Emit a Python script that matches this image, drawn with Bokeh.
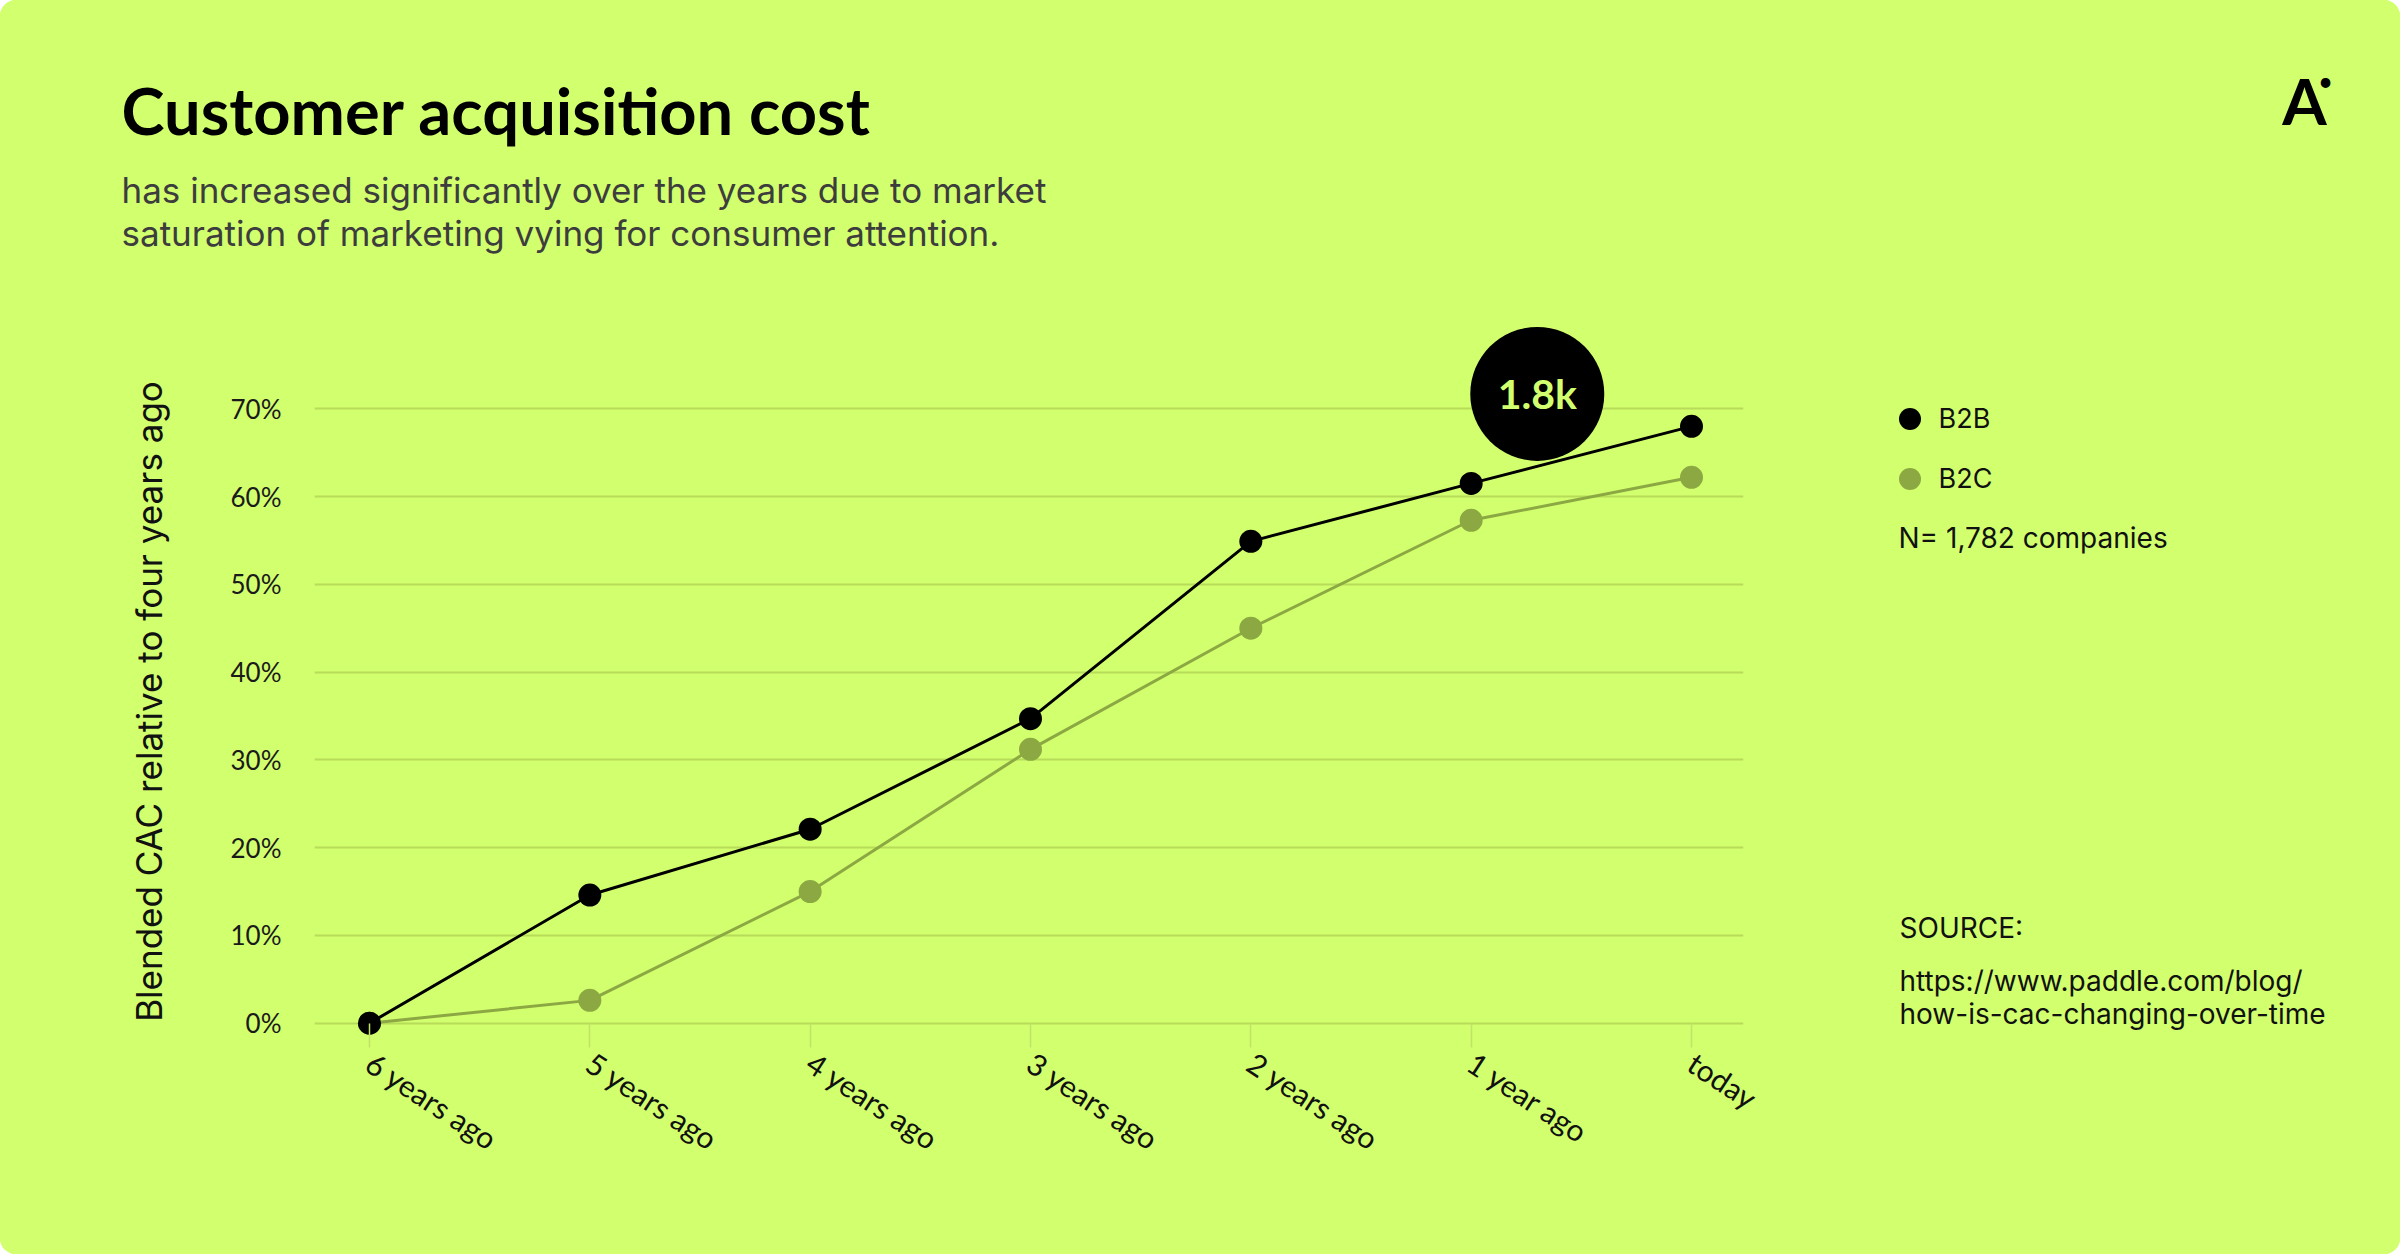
import math
from bokeh.plotting import figure
from bokeh.layouts import column, row
from bokeh.models import (Range1d, LinearAxis, FixedTicker, PrintfTickFormatter,
                          Label, Legend, LegendItem, Grid)
from bokeh.embed import file_html
from bokeh.resources import INLINE
from bokeh.core.properties import value

# ---------------- data ----------------
x_labels = ["6 years ago", "5 years ago", "4 years ago", "3 years ago",
            "2 years ago", "1 year ago", "today"]
x_pos = list(range(len(x_labels)))
b2b = [0.0, 14.6, 22.1, 34.7, 54.9, 61.5, 68.0]
b2c = [0.0, 2.6, 15.0, 31.2, 45.0, 57.3, 62.2]
y_ticks = [0, 10, 20, 30, 40, 50, 60, 70]
bubble_x = [5.3]
bubble_y = [71.7]
bubble_text = ["1.8k"]

title = "Customer acquisition cost"
subtitle = ["has increased significantly over the years due to market",
            "saturation of marketing vying for consumer attention."]
y_title = "Blended CAC relative to four years ago"
n_note = "N= 1,782 companies"
source_lines = ["SOURCE:", "https://www.paddle.com/blog/", "how-is-cac-changing-over-time"]

# ---------------- style ----------------
BG = "#d2ff6e"
GRID = "#b6dc5a"
TICK = "#c0e46a"
C_B2B = "#000000"
C_B2C = "#8ca843"
FONT = "Lato"
FONT2 = "Inter"

W, H = 2400, 1254
HEAD_H = 300
LEFT_W = 200
SIDE_W = 600
CHART_W = W - LEFT_W - SIDE_W
BODY_H = H - HEAD_H
FL, FR, FB = 314, 1743, 1047   # page px of chart frame left/right/bottom
BOT = H - FB                    # bottom border shared by the body row


def blank(w, h, bottom=0):
    f = figure(width=w, height=h, output_backend="svg", toolbar_location=None,
               x_range=Range1d(0, 1), y_range=Range1d(0, 1),
               x_axis_type=None, y_axis_type=None, min_border=0,
               min_border_bottom=bottom,
               background_fill_color=None, border_fill_color=BG,
               outline_line_color=None)
    f.styles = {"background-color": BG}
    return f


def txt(f, x, y, text, size, color="#111111", style="normal", align="left",
        baseline="middle", angle=0.0, font=FONT2):
    f.add_layout(Label(x=x, y=y, x_units="screen", y_units="screen",
                       text=text, text_font=font, text_font_size=f"{size}px",
                       text_color=color, text_font_style=style, text_align=align,
                       text_baseline=baseline, angle=angle))


# ---------------- header ----------------
head = blank(W, HEAD_H)
hy = lambda py: HEAD_H - py
txt(head, 121, hy(109), title, 65, "#000000", "bold", font=FONT)
txt(head, 121, hy(189), subtitle[0], 35, "#3d3d3d")
txt(head, 121, hy(232), subtitle[1], 35, "#3d3d3d")
txt(head, 2304, hy(100), "A", 64, "#000000", "bold", align="center", font=FONT)
txt(head, 2325, hy(80), "\u2022", 26, "#000000", align="center", font=FONT)

# ---------------- y title (frame aligned with chart frame) ----------------
yfig = blank(LEFT_W, BODY_H, BOT)
txt(yfig, 148, FB - 701, y_title, 35, "#111111", align="center", angle=math.pi / 2)

# ---------------- chart ----------------
p = figure(width=CHART_W, height=BODY_H, output_backend="svg", toolbar_location=None,
           x_range=Range1d(-0.2496, 6.236), y_range=Range1d(-2.77, 82.34),
           x_axis_type=None, y_axis_type=None,
           min_border_left=FL - LEFT_W, min_border_right=LEFT_W + CHART_W - FR,
           min_border_top=0, min_border_bottom=BOT,
           background_fill_color=None, border_fill_color=BG,
           outline_line_color=None)
p.styles = {"background-color": BG}

p.add_layout(Grid(dimension=1, ticker=FixedTicker(ticks=y_ticks),
                  grid_line_color=GRID, grid_line_width=2))

ya = LinearAxis(ticker=FixedTicker(ticks=y_ticks),
                formatter=PrintfTickFormatter(format="%d%%"))
ya.axis_line_color = None
ya.major_tick_line_color = None
ya.minor_tick_line_color = None
ya.major_label_standoff = 27
ya.major_label_text_font = FONT
ya.major_label_text_font_size = "26px"
ya.major_label_text_color = "#1a1a1a"
p.add_layout(ya, "left")

xa = LinearAxis(ticker=FixedTicker(ticks=x_pos),
                major_label_overrides={i: s for i, s in zip(x_pos, x_labels)})
xa.axis_line_color = None
xa.major_tick_in = 24
xa.major_tick_out = 0
xa.major_tick_line_color = TICK
xa.major_tick_line_width = 1.5
xa.minor_tick_line_color = None
xa.major_label_orientation = -0.58
xa.major_label_standoff = 12
xa.major_label_text_font = FONT
xa.major_label_text_font_size = "30px"
xa.major_label_text_color = "#111111"
p.add_layout(xa, "below")

p.line(x_pos, b2c, line_color=C_B2C, line_width=3)
p.scatter(x_pos, b2c, size=23, fill_color=C_B2C, line_color=None)
p.line(x_pos, b2b, line_color=C_B2B, line_width=3)
p.scatter(x_pos, b2b, size=23, fill_color=C_B2B, line_color=None)

p.scatter(bubble_x, bubble_y, size=134, fill_color="black", line_color=None)
p.text(bubble_x, bubble_y, text=bubble_text, text_align="center",
       text_baseline="middle", text_color=BG, text_font=value(FONT),
       text_font_size="41px", text_font_style="bold")

# ---------------- side (legend + notes) ----------------
side = blank(SIDE_W, BODY_H, BOT)
side.x_range = Range1d(-100, -99)   # legend proxies stay out of view
SX0 = W - SIDE_W
lb = side.scatter(x_pos, b2b, size=23, fill_color=C_B2B, line_color=None)
lc = side.scatter(x_pos, b2c, size=23, fill_color=C_B2C, line_color=None)
legend = Legend(items=[LegendItem(label="B2B", renderers=[lb]),
                       LegendItem(label="B2C", renderers=[lc])],
                location=(1881.5 - SX0, FB - 505.5),
                glyph_width=55, glyph_height=55, spacing=5, padding=0, margin=0,
                label_standoff=2, label_text_font=FONT2, label_text_font_size="27px",
                label_text_color="#111111", border_line_color=None,
                background_fill_alpha=0)
side.add_layout(legend, "center")
txt(side, 1898 - SX0, FB - 537, n_note, 28)
txt(side, 1899 - SX0, FB - 927, source_lines[0], 28)
txt(side, 1899 - SX0, FB - 980, source_lines[1], 28)
txt(side, 1899 - SX0, FB - 1013, source_lines[2], 28)

layout = column(head, row(yfig, p, side, spacing=0), spacing=0)
layout.styles = {"border-radius": "16px", "overflow": "hidden", "background-color": BG}

open("out.html", "w").write(file_html(layout, INLINE))
